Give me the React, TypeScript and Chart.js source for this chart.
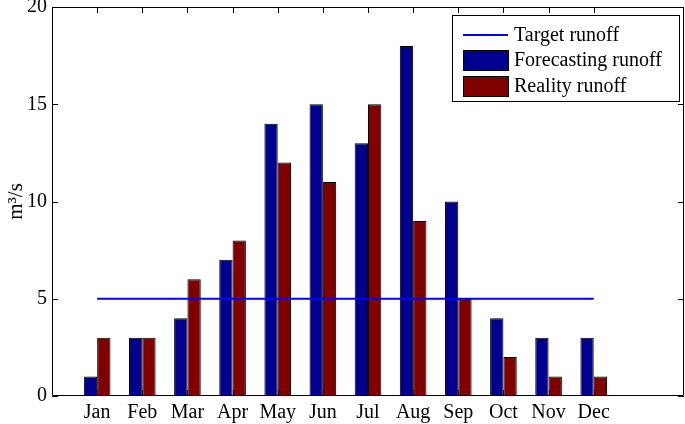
import React, { useEffect, useRef } from "react";
import { Chart, registerables } from "chart.js";

Chart.register(...registerables);

const months = ["Jan", "Feb", "Mar", "Apr", "May", "Jun", "Jul", "Aug", "Sep", "Oct", "Nov", "Dec"];
const forecasting = [1, 3, 4, 7, 14, 15, 13, 18, 10, 4, 3, 3];
const reality = [3, 3, 6, 8, 12, 11, 15, 9, 5, 2, 1, 1];
const target = [5, 5, 5, 5, 5, 5, 5, 5, 5, 5, 5, 5];
const yTicks = [0, 5, 10, 15, 20];

const FONT = "'Liberation Serif', 'Times New Roman', serif";

const boxPlugin = {
  id: "matlabBox",
  afterDatasetsDraw(chart: any) {
    const { ctx, chartArea } = chart;
    const xs = chart.scales.x;
    const ys = chart.scales.y;
    const { left, right, top, bottom } = chartArea;
    ctx.save();
    ctx.strokeStyle = "#000";
    ctx.lineWidth = 1;
    ctx.beginPath();
    ctx.rect(Math.round(left) + 0.5, Math.round(top) + 0.5, Math.round(right - left) - 1, Math.round(bottom - top) - 1);
    ctx.stroke();
    const tl = 6;
    ctx.beginPath();
    months.forEach((_, i) => {
      const px = Math.round(xs.getPixelForValue(i + 1)) + 0.5;
      ctx.moveTo(px, bottom);
      ctx.lineTo(px, bottom - tl);
      ctx.moveTo(px, top);
      ctx.lineTo(px, top + tl);
    });
    yTicks.forEach((v) => {
      const py = Math.round(ys.getPixelForValue(v)) + 0.5;
      ctx.moveTo(left, py);
      ctx.lineTo(left + tl, py);
      ctx.moveTo(right, py);
      ctx.lineTo(right - tl, py);
    });
    ctx.stroke();

    // legend
    const lx = 452.5, ly = 15.5, lw = 227, lh = 86;
    ctx.fillStyle = "#fff";
    ctx.fillRect(lx, ly, lw, lh);
    ctx.strokeStyle = "#000";
    ctx.strokeRect(lx, ly, lw, lh);
    ctx.font = "20px " + FONT;
    ctx.textBaseline = "middle";
    ctx.textAlign = "left";
    const ds = chart.data.datasets;
    const rows = [35, 60, 86];
    ctx.strokeStyle = ds[0].borderColor;
    ctx.lineWidth = 2;
    ctx.beginPath();
    ctx.moveTo(463, rows[0]);
    ctx.lineTo(508, rows[0]);
    ctx.stroke();
    ctx.lineWidth = 1;
    [1, 2].forEach((k) => {
      const y = rows[k];
      ctx.fillStyle = ds[k].backgroundColor;
      ctx.fillRect(463, y - 10, 45, 20);
      ctx.strokeStyle = "#000";
      ctx.strokeRect(463.5, y - 9.5, 45, 20);
    });
    ctx.fillStyle = "#000";
    ds.forEach((d: any, i: number) => {
      ctx.fillText(d.label, 514, rows[i] + 1);
    });
    ctx.restore();
  },
};

export default function App() {
  const ref = useRef<HTMLCanvasElement>(null);
  useEffect(() => {
    if (!ref.current) return;
    const chart = new Chart(ref.current, {
      data: {
        datasets: [
          {
            type: "line",
            label: "Target runoff",
            data: target.map((v, i) => ({ x: i + 1, y: v })),
            borderColor: "#0000ff",
            borderWidth: 2,
            pointRadius: 0,
            fill: false,
            order: 0,
          },
          {
            type: "bar",
            label: "Forecasting runoff",
            data: forecasting.map((v, i) => ({ x: i + 1, y: v })),
            backgroundColor: "#00008f",
            borderColor: "#000",
            borderWidth: 1,
            borderSkipped: false,
            categoryPercentage: 0.59,
            barPercentage: 1,
            order: 1,
          },
          {
            type: "bar",
            label: "Reality runoff",
            data: reality.map((v, i) => ({ x: i + 1, y: v })),
            backgroundColor: "#800000",
            borderColor: "#000",
            borderWidth: 1,
            borderSkipped: false,
            categoryPercentage: 0.59,
            barPercentage: 1,
            order: 1,
          },
        ],
      } as any,
      options: {
        animation: false,
        responsive: false,
        layout: { padding: { top: 7, right: 1, left: 0, bottom: 0 } },
        plugins: { legend: { display: false }, tooltip: { enabled: false } },
        scales: {
          x: {
            type: "linear",
            min: 0,
            max: 14,
            offset: false,
            grid: { display: false, drawTicks: false, offset: false },
            border: { display: false },
            afterBuildTicks: (s: any) => {
              s.ticks = months.map((_, i) => ({ value: i + 1 }));
            },
            afterFit: (s: any) => {
              s.height = 28;
              s.paddingLeft = 0;
              s.paddingRight = 0;
            },
            ticks: {
              autoSkip: false,
              maxRotation: 0,
              padding: 5,
              color: "#000",
              font: { family: FONT, size: 20 },
              callback: (v: any) => months[Number(v) - 1] ?? "",
            },
          },
          y: {
            min: 0,
            max: 20,
            grid: { display: false, drawTicks: false },
            border: { display: false },
            afterBuildTicks: (s: any) => {
              s.ticks = yTicks.map((v) => ({ value: v }));
            },
            afterFit: (s: any) => {
              s.width = 52;
              s.paddingTop = 0;
              s.paddingBottom = 0;
            },
            ticks: {
              padding: 5,
              color: "#000",
              font: { family: FONT, size: 20 },
            },
            title: {
              display: true,
              text: "m³/s",
              color: "#000",
              padding: { top: 4, bottom: 0 },
              font: { family: FONT, size: 21 },
            },
          },
        },
      },
      plugins: [boxPlugin],
    } as any);
    return () => chart.destroy();
  }, []);
  return (
    <div style={{ position: "absolute", left: 0, top: 0, width: 685, height: 424, background: "#fff" }}>
      <canvas ref={ref} width={685} height={424} />
    </div>
  );
}
